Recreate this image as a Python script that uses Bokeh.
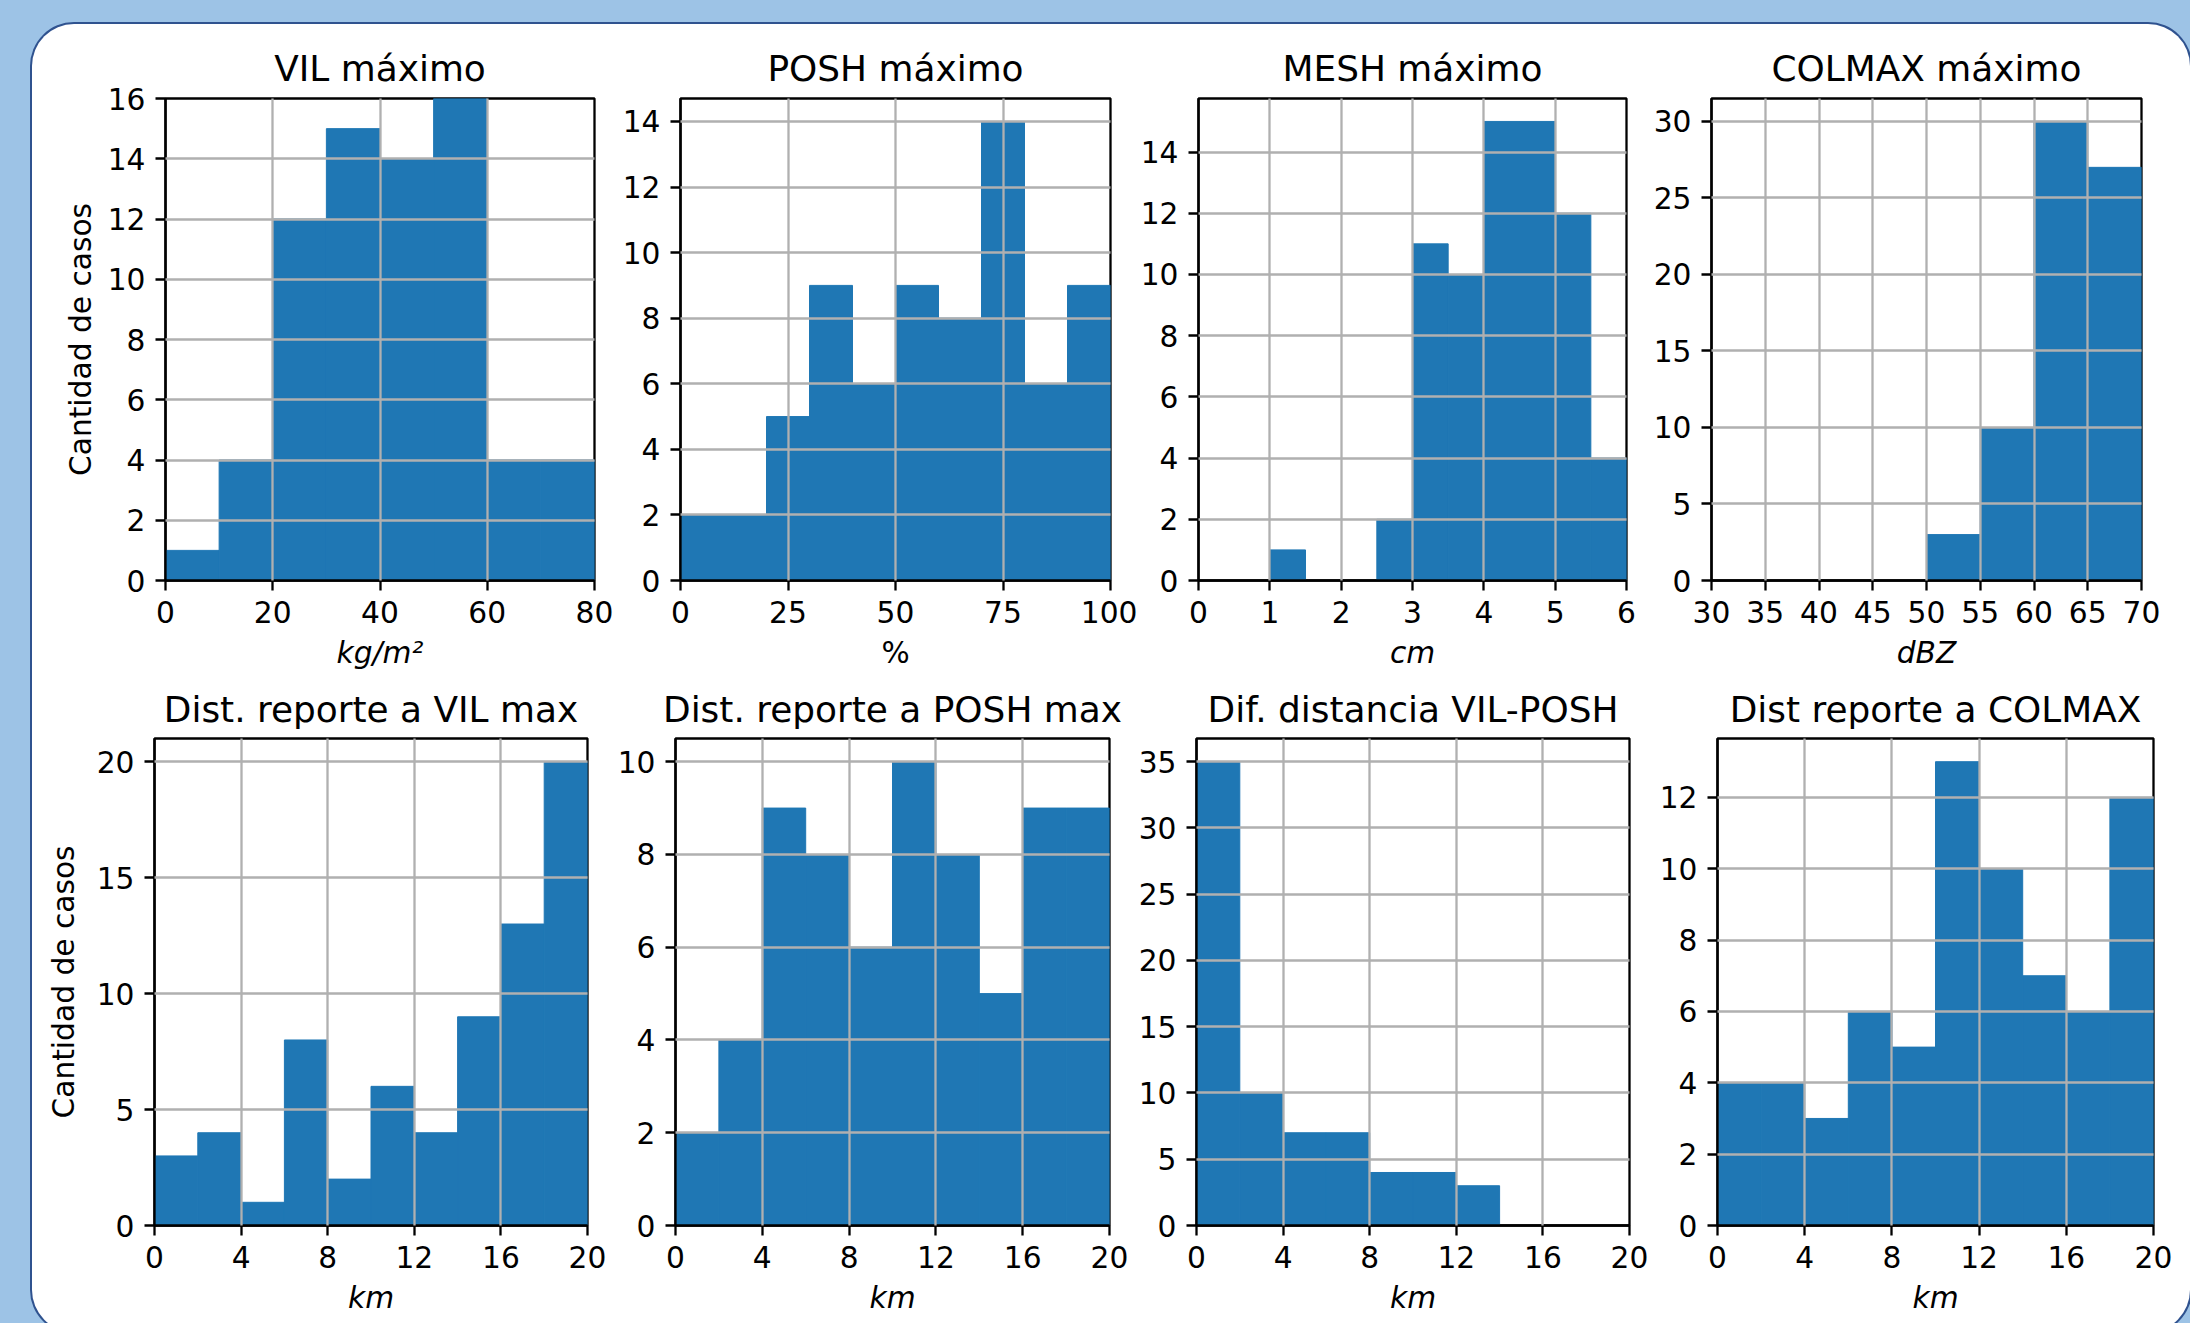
from bokeh.plotting import figure
from bokeh.models import Range1d, FixedTicker, ColumnDataSource
from bokeh.layouts import row, column
from bokeh.embed import file_html
from bokeh.resources import INLINE

# ---------------- data ----------------
vil_edges = [0, 10, 20, 30, 40, 50, 60, 70, 80]
vil_counts = [1, 4, 12, 15, 14, 16, 4, 4]

posh_edges = [0, 10, 20, 30, 40, 50, 60, 70, 80, 90, 100]
posh_counts = [2, 2, 5, 9, 6, 9, 8, 14, 6, 9]

mesh_edges = [0, 0.5, 1, 1.5, 2, 2.5, 3, 3.5, 4, 4.5, 5, 5.5, 6]
mesh_counts = [0, 0, 1, 0, 0, 2, 11, 10, 15, 15, 12, 4]

colmax_edges = [30, 35, 40, 45, 50, 55, 60, 65, 70]
colmax_counts = [0, 0, 0, 0, 3, 10, 30, 27]

dist_edges = [0, 2, 4, 6, 8, 10, 12, 14, 16, 18, 20]
dist_vil_counts = [3, 4, 1, 8, 2, 6, 4, 9, 13, 20]
dist_posh_counts = [2, 4, 9, 8, 6, 10, 8, 5, 9, 9]
dif_vil_posh_counts = [35, 10, 7, 7, 4, 4, 3, 0, 0, 0]
dist_colmax_counts = [4, 4, 3, 6, 5, 13, 10, 7, 6, 12]

titles = ["VIL máximo", "POSH máximo", "MESH máximo", "COLMAX máximo",
          "Dist. reporte a VIL max", "Dist. reporte a POSH max",
          "Dif. distancia VIL-POSH", "Dist reporte a COLMAX"]
x_labels = ["kg/m²", "%", "cm", "dBZ", "km", "km", "km", "km"]
y_label = "Cantidad de casos"

x_limits = [(0, 80), (0, 100), (0, 6), (30, 70), (0, 20), (0, 20), (0, 20), (0, 20)]
y_tops = [16, 14.7, 15.75, 31.5, 21, 10.5, 36.75, 13.65]

x_ticks = [[0, 20, 40, 60, 80],
           [0, 25, 50, 75, 100],
           [0, 1, 2, 3, 4, 5, 6],
           [30, 35, 40, 45, 50, 55, 60, 65, 70],
           [0, 4, 8, 12, 16, 20],
           [0, 4, 8, 12, 16, 20],
           [0, 4, 8, 12, 16, 20],
           [0, 4, 8, 12, 16, 20]]
y_ticks = [[0, 2, 4, 6, 8, 10, 12, 14, 16],
           [0, 2, 4, 6, 8, 10, 12, 14],
           [0, 2, 4, 6, 8, 10, 12, 14],
           [0, 5, 10, 15, 20, 25, 30],
           [0, 5, 10, 15, 20],
           [0, 2, 4, 6, 8, 10],
           [0, 5, 10, 15, 20, 25, 30, 35],
           [0, 2, 4, 6, 8, 10, 12]]

edges_list = [vil_edges, posh_edges, mesh_edges, colmax_edges,
              dist_edges, dist_edges, dist_edges, dist_edges]
counts_list = [vil_counts, posh_counts, mesh_counts, colmax_counts,
               dist_vil_counts, dist_posh_counts, dif_vil_posh_counts, dist_colmax_counts]

# ---------------- layout / style ----------------
BAR = "#1f77b4"
GRID = "#b0b0b0"
LW = 2.3
FONT = "DejaVu Sans"
TICK_SIZE = "29.7px"
TITLE_SIZE = "35.9px"

# (width, height, left, right, top, bottom)
geom = [(584, 654, 133, 22, 74, 98),
        (521, 654, 64, 27, 74, 98),
        (507, 654, 59, 18, 74, 98),
        (546, 654, 67, 49, 74, 98),
        (579, 654, 122, 24, 59, 107),
        (522, 654, 64, 24, 59, 107),
        (521, 654, 63, 25, 59, 107),
        (536, 654, 63, 37, 59, 107)]
title_standoff = [19, 19, 19, 19, 17, 17, 17, 17]
ylabel_standoff = {0: 7, 4: 13}


def make_hist(i):
    w, h, bl, br, bt, bb = geom[i]
    x0, x1 = x_limits[i]
    ytop = y_tops[i]
    p = figure(width=w, height=h, x_range=Range1d(x0, x1), y_range=Range1d(0, ytop),
               toolbar_location=None, output_backend="svg",
               min_border_left=bl, min_border_right=br,
               min_border_top=bt, min_border_bottom=bb,
               border_fill_color=None, background_fill_color="white",
               title=titles[i])
    edges = edges_list[i]
    counts = counts_list[i]
    src = ColumnDataSource(dict(left=edges[:-1], right=edges[1:], top=counts,
                                bottom=[0] * len(counts)))
    p.quad(left="left", right="right", top="top", bottom="bottom", source=src,
           fill_color=BAR, line_color=BAR, line_width=1)

    p.title.text_font = FONT
    p.title.text_font_size = TITLE_SIZE
    p.title.text_font_style = "normal"
    p.title.text_color = "black"
    p.title.align = "center"
    p.title.standoff = title_standoff[i]

    p.outline_line_color = "black"
    p.outline_line_width = LW

    for ax in p.axis:
        ax.axis_line_color = "black"
        ax.axis_line_width = LW
        ax.major_tick_line_color = "black"
        ax.major_tick_line_width = LW
        ax.major_tick_out = 10
        ax.major_tick_in = 0
        ax.minor_tick_line_color = None
        ax.major_label_text_font = FONT
        ax.major_label_text_font_size = TICK_SIZE
        ax.major_label_text_color = "black"
        ax.axis_label_text_font = FONT
        ax.axis_label_text_font_size = TICK_SIZE
        ax.axis_label_text_color = "black"

    p.xaxis.ticker = FixedTicker(ticks=x_ticks[i])
    p.yaxis.ticker = FixedTicker(ticks=y_ticks[i])
    p.xaxis.major_label_standoff = 10
    p.yaxis.major_label_standoff = 10
    p.xaxis.axis_label = x_labels[i]
    p.xaxis.axis_label_standoff = 9
    p.xaxis.axis_label_text_font_style = "normal" if x_labels[i] == "%" else "italic"
    if i in ylabel_standoff:
        p.yaxis.axis_label = y_label
        p.yaxis.axis_label_text_font_style = "normal"
        p.yaxis.axis_label_standoff = ylabel_standoff[i]

    p.xgrid.ticker = FixedTicker(ticks=[t for t in x_ticks[i] if x0 < t < x1])
    p.ygrid.ticker = FixedTicker(ticks=[t for t in y_ticks[i] if 0 < t < ytop])
    p.grid.grid_line_color = GRID
    p.grid.grid_line_width = LW
    p.grid.level = "annotation"
    return p


figs = [make_hist(i) for i in range(8)]
r1 = row(*figs[:4], spacing=0)
r2 = row(*figs[4:], spacing=0)
inner = column(r1, r2, spacing=0, width=2158, height=1308, sizing_mode="fixed",
               margin=(24, 0, 0, 32),
               styles={"background-color": "white", "border-radius": "42px",
                       "box-shadow": "0 0 0 2px #2F528F", "overflow": "hidden",
                       "flex-shrink": "0"})
outer = column(inner, width=2190, height=1323, sizing_mode="fixed",
               styles={"background-color": "#9DC3E6", "overflow": "hidden"})

open("out.html", "w").write(file_html(outer, INLINE))
